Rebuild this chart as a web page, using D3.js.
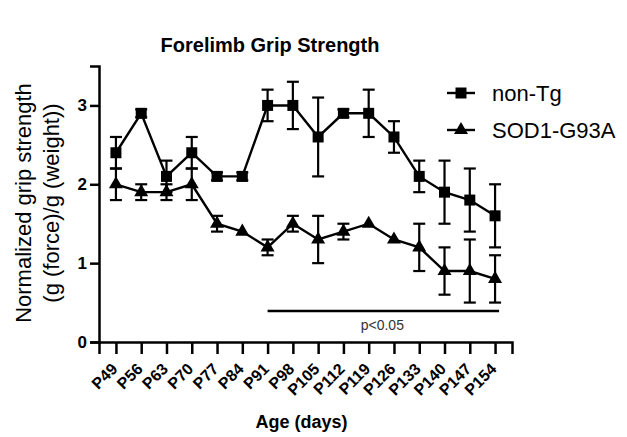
<!DOCTYPE html>
<html>
<head>
<meta charset="utf-8">
<script src="https://cdn.jsdelivr.net/npm/d3@7"></script>
<style>
  body { margin: 0; background: #fff; }
  text { font-family: "Liberation Sans", Arial, sans-serif; }
</style>
</head>
<body>
<div id="chart"></div>
<script>
// setup chart dimensions
var svgWidth = 627;
var svgHeight = 437;

// data
var ages = ["P49", "P56", "P63", "P70", "P77", "P84", "P91", "P98",
  "P105", "P112", "P119", "P126", "P133", "P140", "P147", "P154"];
var nonTgMean = [2.4, 2.9, 2.1, 2.4, 2.1, 2.1, 3.0, 3.0, 2.6, 2.9, 2.9, 2.6, 2.1, 1.9, 1.8, 1.6];
var nonTgErr  = [0.2, 0.05, 0.2, 0.2, 0.05, 0.05, 0.2, 0.3, 0.5, 0.05, 0.3, 0.2, 0.2, 0.4, 0.4, 0.4];
var sodMean = [2.0, 1.9, 1.9, 2.0, 1.5, 1.4, 1.2, 1.5, 1.3, 1.4, 1.5, 1.3, 1.2, 0.9, 0.9, 0.8];
var sodErr  = [0.2, 0.1, 0.1, 0.2, 0.1, 0.0, 0.1, 0.1, 0.3, 0.1, 0.0, 0.0, 0.3, 0.3, 0.4, 0.3];
var yTicks = [0, 1, 2, 3];
var sigStart = "P91";
var sigEnd = "P154";
var sigLabel = "p<0.05";

// margins, plot box
var margin = { top: 66, right: 115, bottom: 95, left: 99 };
var chartWidth = svgWidth - margin.left - margin.right;
var chartHeight = svgHeight - margin.top - margin.bottom;

var svg = d3.select("#chart")
  .append("svg")
  .attr("width", svgWidth)
  .attr("height", svgHeight);

var chartGroup = svg.append("g")
  .attr("transform", `translate(${margin.left}, ${margin.top})`);

// scales
var xScale = d3.scalePoint()
  .domain(ages)
  .range([0, chartWidth])
  .padding(0.67);

var yScale = d3.scaleLinear()
  .domain([0, 3.5])
  .range([chartHeight, 0]);

// axes
var bottomAxis = d3.axisBottom(xScale).tickSizeOuter(0).tickSize(12);
var leftAxis = d3.axisLeft(yScale).tickValues(yTicks).tickSizeOuter(0).tickSize(9).tickFormat(d3.format("d"));

var xAxis = chartGroup.append("g")
  .attr("transform", `translate(0, ${chartHeight})`)
  .call(bottomAxis);
xAxis.select(".domain").attr("stroke-width", 2.5);
xAxis.selectAll(".tick line").attr("stroke-width", 2.5);
xAxis.selectAll(".tick text")
  .attr("font-size", 16)
  .attr("font-weight", "bold")
  .attr("fill", "#000")
  .attr("text-anchor", "end")
  .attr("x", 0)
  .attr("y", 0)
  .attr("dy", 0)
  .attr("transform", "translate(2, 28) rotate(-45)");

var yAxis = chartGroup.append("g").call(leftAxis);
yAxis.select(".domain").attr("stroke-width", 2.5);
yAxis.selectAll(".tick line").attr("stroke-width", 2.5);
yAxis.selectAll(".tick text")
  .attr("font-size", 17)
  .attr("font-weight", "bold")
  .attr("fill", "#000")
  .attr("x", -12);

// series
var series = [
  { name: "non-Tg", mean: nonTgMean, err: nonTgErr, symbol: d3.symbolSquare, size: 121 },
  { name: "SOD1-G93A", mean: sodMean, err: sodErr, symbol: d3.symbolTriangle, size: 85 }
];

var line = d3.line()
  .x(d => xScale(d.age))
  .y(d => yScale(d.mean));

series.forEach(function(s) {
  var pts = ages.map((a, i) => ({ age: a, mean: s.mean[i], err: s.err[i] }));

  chartGroup.append("path")
    .datum(pts)
    .attr("fill", "none")
    .attr("stroke", "#000")
    .attr("stroke-width", 2.4)
    .attr("d", line);

  // error bars
  var eb = chartGroup.append("g").selectAll("g")
    .data(pts.filter(d => d.err > 0))
    .enter()
    .append("g")
    .attr("stroke", "#000")
    .attr("stroke-width", 2.2);
  eb.append("line")
    .attr("x1", d => xScale(d.age)).attr("x2", d => xScale(d.age))
    .attr("y1", d => yScale(d.mean + d.err)).attr("y2", d => yScale(d.mean - d.err));
  eb.append("line")
    .attr("x1", d => xScale(d.age) - 6).attr("x2", d => xScale(d.age) + 6)
    .attr("y1", d => yScale(d.mean + d.err)).attr("y2", d => yScale(d.mean + d.err));
  eb.append("line")
    .attr("x1", d => xScale(d.age) - 6).attr("x2", d => xScale(d.age) + 6)
    .attr("y1", d => yScale(d.mean - d.err)).attr("y2", d => yScale(d.mean - d.err));

  chartGroup.append("g").selectAll("path")
    .data(pts)
    .enter()
    .append("path")
    .attr("transform", d => `translate(${xScale(d.age)}, ${yScale(d.mean)})`)
    .attr("d", d3.symbol().type(s.symbol).size(s.size))
    .attr("fill", "#000");
});

// significance bar
var sigY = chartHeight - 31;
chartGroup.append("line")
  .attr("x1", xScale(sigStart))
  .attr("x2", xScale(sigEnd) + 4)
  .attr("y1", sigY).attr("y2", sigY)
  .attr("stroke", "#000")
  .attr("stroke-width", 2.4);
chartGroup.append("text")
  .attr("x", (xScale(sigStart) + xScale(sigEnd)) / 2 + 1)
  .attr("y", sigY + 19)
  .attr("text-anchor", "middle")
  .attr("font-size", 14)
  .attr("fill", "#333")
  .text(sigLabel);

// legend
var legend = svg.append("g")
  .attr("transform", "translate(447, 93)");
series.forEach(function(s, i) {
  var row = legend.append("g").attr("transform", `translate(0, ${i * 37})`);
  row.append("line")
    .attr("x1", 0).attr("x2", 28)
    .attr("stroke", "#000").attr("stroke-width", 2.4);
  row.append("path")
    .attr("transform", "translate(14, 0)")
    .attr("d", d3.symbol().type(s.symbol).size(s.size))
    .attr("fill", "#000");
  row.append("text")
    .attr("x", 45)
    .attr("y", 8)
    .attr("font-size", 22)
    .text(s.name);
});

// title
svg.append("text")
  .attr("x", 270)
  .attr("y", 52)
  .attr("text-anchor", "middle")
  .attr("font-size", 20)
  .attr("font-weight", "bold")
  .text("Forelimb Grip Strength");

// axis titles
svg.append("text")
  .attr("x", margin.left + chartWidth / 2 - 4)
  .attr("y", 428)
  .attr("text-anchor", "middle")
  .attr("font-size", 18)
  .attr("font-weight", "bold")
  .text("Age (days)");

var yLabel = svg.append("text")
  .attr("transform", `translate(31, ${margin.top + chartHeight / 2 - 1}) rotate(-90)`)
  .attr("text-anchor", "middle")
  .attr("font-size", 22);
yLabel.append("tspan").attr("x", 0).attr("dy", 0).text("Normalized grip strength");
yLabel.append("tspan").attr("x", 0).attr("dy", 28).text("(g (force)/g (weight))");
</script>
</body>
</html>
